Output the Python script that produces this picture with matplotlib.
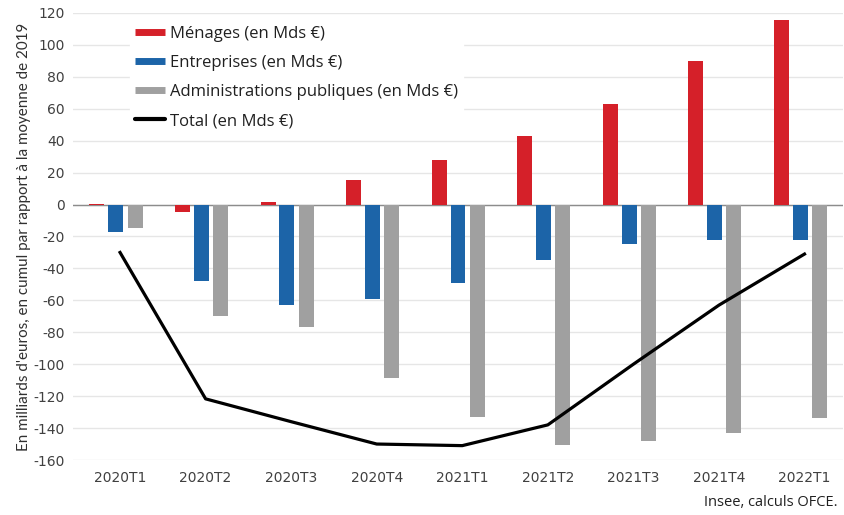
import numpy as np
import matplotlib.pyplot as plt
from matplotlib.lines import Line2D

plt.rcParams['axes.unicode_minus'] = False

# donnees (Mds EUR, cumul vs moyenne 2019)
trimestres = ['2020T1', '2020T2', '2020T3', '2020T4', '2021T1', '2021T2', '2021T3', '2021T4', '2022T1']
menages = [0.5, -4.4, 1.5, 15.4, 28, 43, 63, 90, 115.5]
entreprises = [-17.3, -48, -62.9, -59, -49, -35, -25, -22, -22]
administrations = [-14.8, -70, -77, -108.6, -133, -150.5, -148, -143, -133.6]
total = [-30, -121.7, -136, -150, -151, -138, -100, -63, -31]

rouge = '#d52029'
bleu = '#1c64a8'
gris = '#a0a0a0'

fig = plt.figure(figsize=(8.45, 5.15), dpi=100)
ax = fig.add_axes([73/845, 55/515, 770/845, 447/515])

x = np.arange(len(trimestres))
w = 0.175
ax.bar(x - 0.27, menages, w, color=rouge, zorder=3)
ax.bar(x - 0.05, entreprises, w, color=bleu, zorder=3)
ax.bar(x + 0.175, administrations, w, color=gris, zorder=3)
ax.plot(x, total, color='black', lw=2.3, zorder=4)

ax.set_xlim(-0.55, 8.45)
ax.set_ylim(-160, 120)
ax.set_yticks(range(-160, 121, 20))
ax.set_xticks(x)
ax.set_xticklabels(trimestres)
ax.grid(axis='y', color='#e6e6e6', lw=1, zorder=0)
ax.axhline(0, color='#8c8c8c', lw=1, zorder=2)
for s in ax.spines.values():
    s.set_visible(False)
ax.tick_params(length=0, labelsize=10, colors='#404040')
ax.tick_params(axis='y', pad=6)
ax.tick_params(axis='x', pad=8)

ax.set_ylabel("En milliards d'euros, en cumul par rapport à la moyenne de 2019",
              fontsize=10.9, color='#303030', family='Lato', labelpad=2)

handles = [Line2D([], [], color=rouge, lw=5, solid_capstyle='butt'),
           Line2D([], [], color=bleu, lw=5, solid_capstyle='butt'),
           Line2D([], [], color=gris, lw=5, solid_capstyle='butt'),
           Line2D([], [], color='black', lw=3, solid_capstyle='round')]
labels = ['Ménages (en Mds €)', 'Entreprises (en Mds €)',
          'Administrations publiques (en Mds €)', 'Total (en Mds €)']
leg = ax.legend(handles, labels, loc='upper left', bbox_to_anchor=(0.063, 1.0),
                frameon=True, fancybox=False, edgecolor='white', framealpha=1,
                prop={'family': 'Open Sans', 'size': 12}, handlelength=1.8,
                labelspacing=0.78, handletextpad=0.3, borderpad=0.3)
for t in leg.get_texts():
    t.set_color('#202020')

fig.text(838/845, 1 - 503/515, 'Insee, calculs OFCE.', ha='right', va='center',
         fontsize=10.5, family='Open Sans', color='#202020')

fig.savefig('out.png', dpi=100)
